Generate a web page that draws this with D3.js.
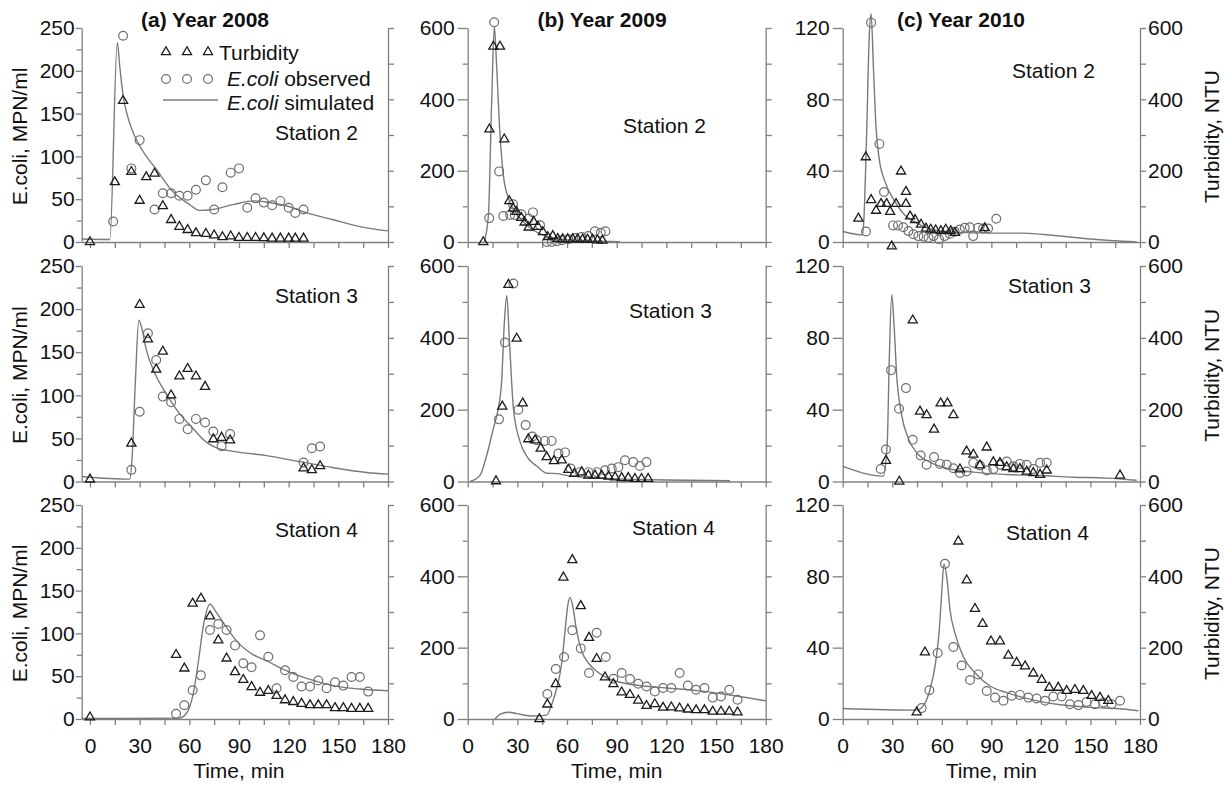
<!DOCTYPE html>
<html>
<head>
<meta charset="utf-8">
<script src="https://cdn.jsdelivr.net/npm/d3@7"></script>
<style>
  body { margin: 0; background: #fff; }
  svg { display: block; }
  text { font-family: "Liberation Sans", Arial, sans-serif; fill: #111; }
</style>
</head>
<body>
<div id="chart"></div>
<script>
// ---- data: [time (min), value] ----
var years = ["(a) Year 2008", "(b) Year 2009", "(c) Year 2010"];
var stations = ["Station 2", "Station 3", "Station 4"];
var timeTicks = [0, 30, 60, 90, 120, 150, 180];
var ecoliTicks2008 = [0, 50, 100, 150, 200, 250];
var ecoliTicks2009 = [0, 200, 400, 600];
var ecoliTicks2010 = [0, 40, 80, 120];
var turbTicks = [0, 200, 400, 600];

// 2008
var sim2008s2 = [[-5,3.5],[12,3],[16.5,233],[18,205],[20,171],[23,145],[26,128],[32,106],[40,85],[50,59],[60,44],[66,37],[74,38],[87,44],[99,48],[107,46.5],[119,42],[131,34],[147,26],[163,18],[180,13]];
var obs2008s2 = [[14,24],[20,241],[25,86],[30,119],[39,38],[44,57],[49,57],[54,54],[59,54],[64,61],[70,72],[75,38],[80,64],[85,81],[90,86],[95,40],[100,51],[105,46],[110,43],[115,48],[120,40],[124,34],[129,38]];
var turb2008s2 = [[0,0],[15,168],[20,396],[25,197],[30,116],[34,182],[39,192],[44,101],[49,62],[54,43],[59,34],[64,25],[70,23],[75,19],[80,14],[85,16],[90,12],[95,12],[100,12],[105,11],[110,10],[115,10],[120,10],[124,10],[129,10]];

var sim2008s3 = [[-5,5.8],[24,2.7],[25.5,30],[27.5,120],[29.5,187],[31,180],[34,153],[40,122],[46,102],[54,79],[62,62],[70,46],[76.5,39],[86.6,35],[106.7,30],[126.8,23],[147,16],[167,10.4],[180,8.5]];
var obs2008s3 = [[25,13.5],[30,81],[35,172],[40,141],[44,98.5],[49,92],[54,72.6],[59,60.7],[64,72.6],[69.5,68.4],[74.5,58],[79.5,41],[84.6,55],[129,22],[134,38.6],[139,40.6]];
var turb2008s3 = [[0,6],[25,106],[30,492],[35,396],[40,312],[44,362],[49,240],[54,293],[59,314],[64,293],[69.5,264],[74.5,118],[79.5,122],[84.6,115],[129,37],[134,32],[139,43]];

var sim2008s4 = [[-5,0.5],[54,1],[58.4,7],[62.4,30],[65.4,66],[68.5,109],[72.5,134],[76.5,124],[82.5,107],[88.6,91],[98.7,75],[106.7,68],[116.8,58],[126.8,50],[136.9,44],[147,39],[163,35],[180,33]];
var obs2008s4 = [[52,6],[57,16],[62,33.6],[67,51],[72.5,104],[77.5,111],[82.5,104],[87.6,86],[92.6,65],[97.6,60.5],[102.7,97.7],[107.7,72.7],[112.7,36],[117.8,57],[122.8,49],[127.8,38],[132.9,38],[137.9,45],[142.9,36],[148,43],[153,39],[158,49],[163,49],[168,32]];
var turb2008s4 = [[0,5],[52,180],[57,142],[62,324],[67,338],[72.5,288],[77.5,221],[82.5,170],[87.6,132],[92.6,110],[97.6,90],[102.7,74],[107.7,79],[112.7,65],[117.8,53],[122.8,48],[127.8,43],[132.9,39],[137.9,39],[142.9,39],[148,31],[153,31],[158,29],[163,29],[168,29]];

// 2009
var sim2009s2 = [[10,0],[12.5,75],[14.5,397],[16.1,605],[17.5,491],[19.5,302],[21.5,189],[24.6,123],[28.6,85],[33.6,57],[39.7,33],[45.7,19],[53.8,9.4],[63.8,4.7],[80,2],[92,1]];
var obs2009s2 = [[13,67],[16,616],[19,198],[21.5,73],[25.6,76],[27.4,106],[28.4,76],[32.4,78],[36.8,66],[39.4,83],[43.7,47],[47.8,0],[50.8,0],[53.8,2],[56.8,5],[60.8,8],[64.8,11],[68.8,14],[72.8,17],[76.8,30],[80.4,26],[83.2,30]];
var turb2009s2 = [[9.4,0],[13.1,316],[15.5,548],[19.5,548],[22.1,288],[25.1,115],[27.4,94],[29.4,85],[32.4,68],[34.4,55],[36.8,41],[39.8,57],[42.4,43],[45.4,28],[48.4,14],[51.4,17],[54.4,9],[57.4,8],[60.4,8],[63.4,8],[66.4,8],[69.4,7],[72.4,7],[75.4,7],[78.4,5],[81.4,4]];

var sim2009s3 = [[1.4,0],[7.4,17],[11.5,73],[15.5,148],[18.5,204],[20.5,279],[22.1,439],[23.6,518],[25.2,392],[27.6,204],[31.6,111],[36.6,64],[41.7,43],[47.7,23],[53.8,22],[59.8,17],[69.9,12],[80,9],[100,6],[120,4],[158.4,2]];
var obs2009s3 = [[18.9,173],[22.5,387],[27.6,551],[30.6,200],[35,157],[39.1,125],[41.7,115],[46.7,113],[50.7,113],[54.8,78],[58.8,81],[62.2,36],[67.8,26],[72.9,26],[77.9,26],[82.9,31],[87,36],[91,40],[95,59],[100,54],[104,43],[108,54]];
var turb2009s3 = [[17.1,1],[20.9,209],[24.6,548],[29.6,398],[33.2,218],[36.6,118],[40.7,115],[44.1,92],[47.7,68],[52.1,57],[56.8,59],[60.8,33],[64.4,22],[68.9,26],[72.9,17],[76.9,17],[80.9,17],[85,14],[89,12],[93,10],[97,10],[101,7.5],[105,7.5],[109,7.5]];

var sim2009s4 = [[16.5,0],[19.5,13],[24.6,19],[29.6,15],[39.7,8.5],[47.7,11],[50.7,40],[53.8,87],[56.8,157],[58.8,247],[60.4,317],[61.8,341],[63.4,317],[65.8,247],[68.9,190],[72.9,157],[77.9,134],[84,115],[92,103],[100,96],[120.2,87],[140,79],[160.5,66],[180,51]];
var obs2009s4 = [[48.1,70],[53.2,140],[58.2,174],[63.2,249],[68.3,198],[73.3,129],[77.9,242],[83.4,174],[88,113],[93,129],[98,112],[103,99],[108,91],[113,77],[118,87],[123,87],[128,129],[133,94],[138,82],[143,87],[148,60],[153,63],[158,82],[163,54]];
var turb2009s4 = [[43.3,0],[48.1,41],[53.2,98],[57.8,397],[63.2,446],[68.3,317],[73.3,228],[77.9,169],[82.9,117],[88,98],[93,75],[98,68],[103,52],[108,37],[113,42],[118,32],[123,33],[128,30],[133,27],[138,25],[143,25],[148,21],[153,21],[158,21],[163,19]];

// 2010
var sim2010s2 = [[0,5.9],[12.1,4],[12.9,14],[14.5,61],[16.1,116],[17.2,128],[18.6,98],[20.2,64],[22.2,46],[25.6,34],[30.7,24],[36.7,16],[44.8,10.6],[54.9,6.9],[69,5.4],[89.2,5],[109.4,5],[129.5,3.5],[149.7,1.7],[178,0]];
var obs2010s2 = [[14.1,5.9],[17.2,123],[22.2,55],[25,28],[30.5,9.3],[33.5,9.3],[36.7,8.3],[39.8,6.1],[42.8,4.3],[45.8,3.3],[49,3],[52,2.4],[55,3.3],[58.3,1.5],[61.7,3.3],[64.8,4.6],[67.8,5.8],[70.9,7],[73.9,8],[77,8.3],[79,3.3],[82,8],[85,7.6],[88,7.6],[93,13]];
var turb2010s2 = [[9.5,66],[14,238],[17.2,118],[20.2,88],[23.2,107],[26.6,107],[28.7,85],[29.7,-12],[32.3,107],[35.3,198],[38.3,141],[38.3,107],[40.8,72],[43.8,62],[47.4,49],[50.4,38],[53.3,35],[56.3,33],[59.4,31],[62.4,35],[65.4,31],[68,26],[86,39]];

var sim2010s3 = [[0,8.4],[24.6,3],[27,22],[28.2,68],[29.7,104],[31.1,87],[32.7,59],[35.7,37],[39.7,24],[44.8,16],[52.9,10.8],[63,7.4],[79.1,5.2],[99.3,3.9],[119.5,3.3],[139.6,2.4],[159.8,1.9],[178,0.7]];
var obs2010s3 = [[23,7],[26.2,17.8],[29.3,62],[34.1,40.5],[38.3,52],[42.4,23.2],[47.2,14.5],[50.8,9.3],[55.3,13.6],[58.9,9.8],[63,9.3],[67,7.4],[71,4.8],[75,5.6],[79.1,10.4],[83.1,8.9],[87.2,6.1],[91.2,7],[95.2,9.3],[99.3,11.1],[103.3,8.5],[107.3,9.8],[111.4,9.3],[115.4,7],[119.5,10.4],[123.5,10.4]];
var turb2010s3 = [[26.2,58],[34.3,0],[42.4,449],[46.8,195],[50.8,185],[55.3,145],[59.3,218],[63.4,218],[67,185],[71,34],[75,84],[79.1,75],[83.1,45],[87.2,95],[91.2,54],[95.2,52],[99.3,40],[103.3,35],[107.3,35],[111.4,28],[115.4,24],[119.5,19],[123.5,31],[167.9,17]];

var sim2010s4 = [[0,5.9],[44.8,5],[48.8,7.4],[52.9,16.7],[55.9,29.6],[58.3,48],[59.9,70],[61.3,87],[63,79.6],[65,61],[68,48],[73,35],[81.1,25],[89.2,18.5],[99.3,14.8],[109.4,12],[129.5,8.3],[149.7,6.5],[169.9,5.6],[179,4.6]];
var obs2010s4 = [[47.8,6.1],[52.5,16.1],[57.5,37],[61.9,87],[67,40.4],[72,30],[77.1,21.9],[82.1,25],[87.2,15.7],[92.2,12],[97.3,10.2],[102.3,13],[107.3,13.5],[112.4,12],[117.4,11.5],[122.5,10.2],[127.5,12.6],[132.6,12.6],[137.6,8.3],[142.7,7.8],[147.7,9.6],[152.7,8.3],[157.8,9.3],[162.8,8.3],[167.9,10.2]];
var turb2010s4 = [[44.8,19],[49.8,187],[70,498],[75.1,389],[80.1,309],[84.7,267],[89.8,218],[95.2,218],[100.3,178],[105.3,158],[110.4,148],[115.4,128],[120.5,110],[125.1,88],[130.5,88],[135.6,79],[140.6,82],[145.7,79],[150.7,65],[155.8,60],[160.8,51]];

// ---- layout ----
var width = 1224, height = 788;
var cols = [
  {x0: 81.7,  x1: 388,    tmin: -5, ticks: ecoliTicks2008, majorLen: 6,  pad: 1, titleX: 205},
  {x0: 467.7, x1: 765.7,  tmin: 0,  ticks: ecoliTicks2009, majorLen: 10, pad: 3, titleX: 602},
  {x0: 842.7, x1: 1140,   tmin: 0,  ticks: ecoliTicks2010, majorLen: 10, pad: 3, titleX: 961}
];
var rows = [{top: 28, bottom: 242}, {top: 266, bottom: 481.5}, {top: 505, bottom: 719}];
var stationPos = [
  [[275,140],[275,303],[275,537]],
  [[623,133],[629,318],[632,535]],
  [[1012,78],[1008,293],[1006,540]]
];

var series = [
  [[sim2008s2, obs2008s2, turb2008s2], [sim2008s3, obs2008s3, turb2008s3], [sim2008s4, obs2008s4, turb2008s4]],
  [[sim2009s2, obs2009s2, turb2009s2], [sim2009s3, obs2009s3, turb2009s3], [sim2009s4, obs2009s4, turb2009s4]],
  [[sim2010s2, obs2010s2, turb2010s2], [sim2010s3, obs2010s3, turb2010s3], [sim2010s4, obs2010s4, turb2010s4]]
];

var axisColor = "#808080", lineColor = "#7a7a7a", circleColor = "#6e6e6e", triColor = "#1c1c1c";
var fs = 21;

var svg = d3.select("#chart").append("svg")
    .attr("width", width)
    .attr("height", height);

var tri = d3.symbol().type(d3.symbolTriangle).size(36);

function styleAxis(g) {
  g.selectAll("path, line").attr("stroke", axisColor).attr("stroke-width", 1.3);
  g.selectAll("text").attr("font-size", fs).attr("fill", "#111")
    .attr("font-family", '"Liberation Sans", Arial, sans-serif');
}

cols.forEach(function(c, ci) {
  // column title
  svg.append("text")
    .attr("x", c.titleX).attr("y", 27)
    .attr("text-anchor", "middle")
    .attr("font-size", 21).attr("font-weight", "bold")
    .text(years[ci]);

  rows.forEach(function(r, ri) {
    var g = svg.append("g");
    var yMax = c.ticks[c.ticks.length - 1];
    var step = c.ticks[1] - c.ticks[0];

    var x = d3.scaleLinear().domain([c.tmin, 180]).range([c.x0, c.x1]);
    var yL = d3.scaleLinear().domain([0, yMax]).range([r.bottom, r.top]);
    var yR = d3.scaleLinear().domain([0, 600]).range([r.bottom, r.top]);

    // left axis, major + minor ticks
    g.append("g").attr("transform", "translate(" + c.x0 + ",0)")
      .call(d3.axisLeft(yL).tickValues(c.ticks).tickSize(c.majorLen).tickSizeOuter(0).tickPadding(c.pad))
      .call(styleAxis);
    g.append("g").attr("transform", "translate(" + c.x0 + ",0)")
      .call(d3.axisLeft(yL).tickValues(d3.range(step / 2, yMax, step)).tickSize(5).tickFormat(""))
      .call(function(a) { a.select(".domain").remove(); })
      .call(styleAxis);

    // right axis (turbidity)
    g.append("g").attr("transform", "translate(" + c.x1 + ",0)")
      .call(d3.axisRight(yR).tickValues(d3.range(0, 601, 100)).tickSize(6).tickSizeOuter(0).tickPadding(2)
        .tickFormat(function(d) { return (ci === 2 && turbTicks.indexOf(d) >= 0) ? d : ""; }))
      .call(styleAxis);

    // bottom axis
    g.append("g").attr("transform", "translate(0," + r.bottom + ")")
      .call(d3.axisBottom(x).tickValues(d3.range(0, 181, 15)).tickSize(6).tickSizeOuter(0).tickPadding(13)
        .tickFormat(function(d) { return (ri === 2 && timeTicks.indexOf(d) >= 0) ? d : ""; }))
      .call(styleAxis);

    var s = series[ci][ri];

    // simulated line
    g.append("path")
      .datum(s[0])
      .attr("fill", "none")
      .attr("stroke", lineColor)
      .attr("stroke-width", 1.4)
      .attr("d", d3.line()
        .curve(d3.curveMonotoneX)
        .x(function(d) { return x(d[0]); })
        .y(function(d) { return yL(d[1]); }));

    // observed E.coli
    g.selectAll(".obs")
      .data(s[1])
      .enter()
      .append("circle")
      .attr("cx", function(d) { return x(d[0]); })
      .attr("cy", function(d) { return yL(d[1]); })
      .attr("r", 4.4)
      .attr("fill", "none")
      .attr("stroke", circleColor)
      .attr("stroke-width", 1.2);

    // turbidity
    g.selectAll(".turb")
      .data(s[2])
      .enter()
      .append("path")
      .attr("d", tri)
      .attr("transform", function(d) { return "translate(" + x(d[0]) + "," + yR(d[1]) + ")"; })
      .attr("fill", "none")
      .attr("stroke", triColor)
      .attr("stroke-width", 1.3);

    // station label
    svg.append("text")
      .attr("x", stationPos[ci][ri][0]).attr("y", stationPos[ci][ri][1])
      .attr("font-size", fs)
      .text(stations[ri]);

    var cy = (r.top + r.bottom) / 2 + 1.5;
    if (ci === 0) {
      svg.append("text")
        .attr("transform", "translate(27," + cy + ") rotate(-90)")
        .attr("text-anchor", "middle")
        .attr("font-size", fs)
        .text("E.coli, MPN/ml");
    }
    if (ci === 2) {
      svg.append("text")
        .attr("transform", "translate(1219," + cy + ") rotate(-90)")
        .attr("text-anchor", "middle")
        .attr("font-size", fs)
        .text("Turbidity, NTU");
    }
    if (ri === 2) {
      svg.append("text")
        .attr("x", (c.x0 + c.x1) / 2 + (ci === 0 ? 4 : 0)).attr("y", 778)
        .attr("text-anchor", "middle")
        .attr("font-size", fs)
        .text("Time, min");
    }
  });
});

// legend in panel (a), station 2
var lg = svg.append("g");
[166, 187, 208].forEach(function(px) {
  lg.append("path").attr("d", tri)
    .attr("transform", "translate(" + px + ",52)")
    .attr("fill", "none").attr("stroke", triColor).attr("stroke-width", 1.3);
  lg.append("circle").attr("cx", px).attr("cy", 79).attr("r", 4.4)
    .attr("fill", "none").attr("stroke", circleColor).attr("stroke-width", 1.2);
});
lg.append("line").attr("x1", 163).attr("x2", 218).attr("y1", 100).attr("y2", 100)
  .attr("stroke", lineColor).attr("stroke-width", 1.4);
lg.append("text").attr("x", 219).attr("y", 60).attr("font-size", fs).text("Turbidity");
var t1 = lg.append("text").attr("x", 227).attr("y", 86).attr("font-size", fs);
t1.append("tspan").attr("font-style", "italic").text("E.coli");
t1.append("tspan").text(" observed");
var t2 = lg.append("text").attr("x", 227).attr("y", 110).attr("font-size", fs);
t2.append("tspan").attr("font-style", "italic").text("E.coli");
t2.append("tspan").text(" simulated");
</script>
</body>
</html>
